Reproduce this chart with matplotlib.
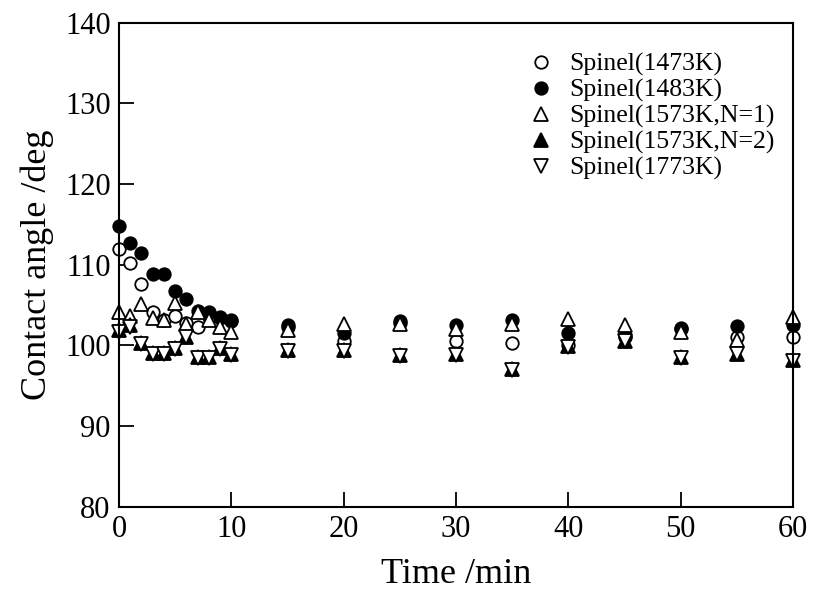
import matplotlib.pyplot as plt

plt.rcParams['font.family'] = ['Liberation Serif', 'DejaVu Serif']

time_min = [0, 1, 2, 3, 4, 5, 6, 7, 8, 9, 10, 15, 20, 25, 30, 35, 40, 45, 50, 55, 60]

spinel_1473 = [112.0, 110.2, 107.6, 104.1, 103.1, 103.6, 102.8, 102.3, 103.5, 103.5, 103.0,
               102.3, 100.6, 102.8, 100.5, 100.3, 100.0, 101.0, 102.2, 101.0, 101.0]
spinel_1483 = [114.8, 112.7, 111.5, 108.9, 108.9, 106.8, 105.7, 104.3, 104.2, 103.4, 103.1,
               102.5, 101.5, 103.0, 102.5, 103.1, 101.5, 101.2, 102.0, 102.4, 102.5]
spinel_1573_n1 = [104.1, 103.7, 105.1, 103.4, 103.2, 105.3, 102.6, 104.1, 103.1, 102.3, 101.7,
                  101.9, 102.7, 102.7, 102.1, 102.7, 103.3, 102.5, 101.7, 100.7, 103.5]
spinel_1573_n2 = [101.9, 102.5, 100.3, 99.1, 99.1, 99.7, 101.1, 98.6, 98.6, 99.7, 98.9,
                  99.4, 99.4, 98.8, 98.9, 97.1, 99.9, 100.6, 98.6, 99.0, 98.2]
spinel_1773 = [101.7, 102.3, 100.2, 99.0, 99.0, 99.6, 101.0, 98.5, 98.5, 99.6, 98.8,
               99.3, 99.3, 98.7, 98.8, 97.0, 99.8, 100.5, 98.5, 98.9, 98.1]

labels = ['Spinel(1473K)', 'Spinel(1483K)', 'Spinel(1573K,N=1)',
          'Spinel(1573K,N=2)', 'Spinel(1773K)']

fig = plt.figure(figsize=(8.13, 5.97), dpi=100)
ax = fig.add_axes([0.1464, 0.151, 0.829, 0.811])

ms_c = 9
ms_t = 10.5
mew = 1.3
ax.plot(time_min, spinel_1473, 'o', ms=ms_c, mfc='white', mec='black', mew=mew,
        label=labels[0], clip_on=False)
ax.plot(time_min, spinel_1483, 'o', ms=ms_c, mfc='black', mec='black', mew=mew,
        label=labels[1], clip_on=False)
ax.plot(time_min, spinel_1573_n1, '^', ms=ms_t, mfc='white', mec='black', mew=mew,
        label=labels[2], clip_on=False)
ax.plot(time_min, spinel_1573_n2, '^', ms=ms_t, mfc='black', mec='black', mew=mew,
        label=labels[3], clip_on=False)
ax.plot(time_min, spinel_1773, 'v', ms=ms_t, mfc='white', mec='black', mew=mew,
        label=labels[4], clip_on=False)

ax.set_xlim(0, 60)
ax.set_ylim(80, 140)
ax.set_xticks(range(0, 61, 10))
ax.set_yticks(range(80, 141, 10))
ax.tick_params(direction='in', length=11, width=1.3, labelsize=22, pad=6,
               top=False, right=False)
for s in ax.spines.values():
    s.set_linewidth(1.5)

ax.set_xlabel('Time /min', fontsize=26, labelpad=10)
ax.set_ylabel('Contact angle /deg', fontsize=26, labelpad=8)

ax.legend(loc='upper right', bbox_to_anchor=(1.0, 0.975), frameon=False, fontsize=18.5,
          handlelength=1.0, handletextpad=0.6, labelspacing=0.1, borderaxespad=0.3)

fig.savefig('out.png', dpi=100)
